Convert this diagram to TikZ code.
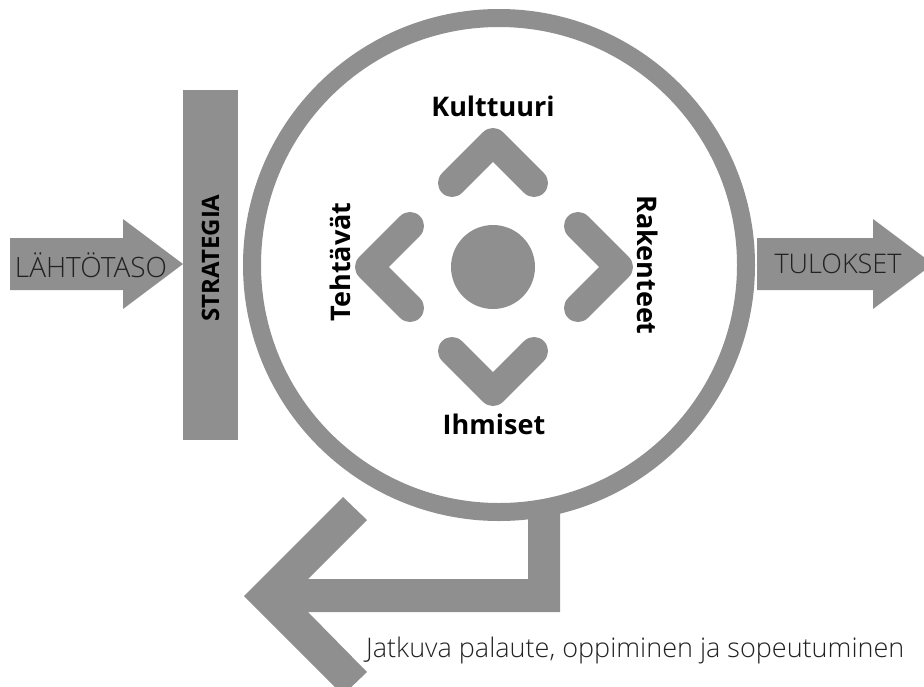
\documentclass[tikz,border=0pt]{standalone}
\usepackage{fontspec}
\setmainfont{Open Sans}
\newfontfamily\lightfont{Open Sans Light}
\definecolor{shapegray}{HTML}{8F8F8F}
\definecolor{ink}{HTML}{222222}
\begin{document}
\begin{tikzpicture}[x=1pt,y=-1pt,
  shapefill/.style={fill=shapegray,draw=none},
  lighttext/.style={font=\lightfont\fontsize{27}{32}\selectfont, text=ink, inner sep=0pt},
  boldtext/.style={font=\bfseries\fontsize{27}{32}\selectfont, text=black, inner sep=0pt},
  chevron/.style={draw=shapegray, line width=28pt, line cap=round, line join=round}]
\useasboundingbox (0,0) rectangle (924,686);
\clip (0,0) rectangle (924,686);

% input arrow
\fill[shapegray] (10,238) -- (123,238) -- (123,219) -- (183,264) -- (123,309) -- (123,290) -- (10,290) -- cycle;
\node[lighttext, font=\lightfont\fontsize{28}{32}\selectfont] (start) at (91,265) {LÄHTÖTASO};

% strategy bar
\fill[shapegray] (183,90) rectangle (238,440);
\node[boldtext, font=\bfseries\fontsize{24}{28}\selectfont, rotate=90] (strategy) at (210.5,258) {STRATEGIA};

% organisation ring
\coordinate (centre) at (499,265);
\draw[shapegray, line width=18pt] (centre) circle[radius=247pt];

% output arrow
\fill[shapegray] (757,238) -- (873,238) -- (873,219) -- (933,264) -- (873,309) -- (873,290) -- (757,290) -- cycle;
\node[lighttext] (result) at (838,264) {TULOKSET};

% feedback arrow
\fill[shapegray] (244,596) -- (343,497) -- (367,520) -- (308,579) -- (528,579) -- (528,505)
  -- (560,505) -- (560,612) -- (308,612) -- (367,672) -- (343,695) -- cycle;
\node[lighttext, anchor=base west] (feedback) at (366,657) {Jatkuva palaute, oppiminen ja sopeutuminen};

% core and the four chevrons
\coordinate (core) at (493,267);
\fill[shapegray] (core) circle[radius=42pt];
\draw[chevron] (452,183) -- (493,142) -- (534,183);
\draw[chevron] (452,351) -- (493,392) -- (534,351);
\draw[chevron] (410,226) -- (369,267) -- (410,308);
\draw[chevron] (578,226) -- (619,267) -- (578,308);

% dimension labels
\node[boldtext] (culture) at (493,106) {Kulttuuri};
\node[boldtext] (people) at (494,424) {Ihmiset};
\node[boldtext, rotate=90] (tasks) at (340,262) {Tehtävät};
\node[boldtext, rotate=-90] (structures) at (648,265) {Rakenteet};
\end{tikzpicture}
\end{document}
